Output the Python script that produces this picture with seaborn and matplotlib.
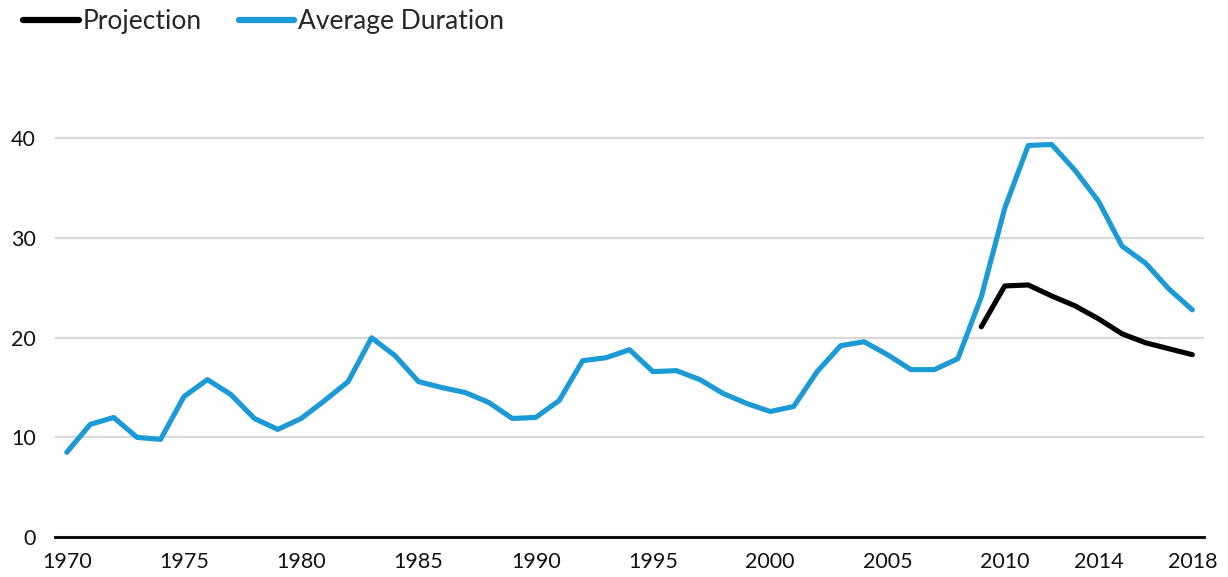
import numpy as np
import pandas as pd
import matplotlib
matplotlib.use("Agg")
import matplotlib.pyplot as plt
import seaborn as sns
from matplotlib.ticker import FixedLocator

years = list(range(1970, 2019))
average_duration = [8.5, 11.3, 12.0, 10.0, 9.8, 14.1, 15.8, 14.3, 11.9, 10.8,
                    11.9, 13.7, 15.6, 20.0, 18.2, 15.6, 15.0, 14.5, 13.5, 11.9,
                    12.0, 13.7, 17.7, 18.0, 18.8, 16.6, 16.7, 15.8, 14.4, 13.4,
                    12.6, 13.1, 16.6, 19.2, 19.6, 18.3, 16.8, 16.8, 17.9, 24.1,
                    33.0, 39.3, 39.4, 36.8, 33.7, 29.2, 27.5, 24.9, 22.8]
proj_years = list(range(2009, 2019))
projection = [21.1, 25.2, 25.3, 24.2, 23.2, 21.9, 20.4, 19.5, 18.9, 18.3]
tick_years = [1970, 1975, 1980, 1985, 1990, 1995, 2000, 2005, 2010, 2014, 2018]
y_ticks = [0, 10, 20, 30, 40]

df = pd.concat([
    pd.DataFrame({"Year": proj_years, "Value": projection, "Series": "Projection"}),
    pd.DataFrame({"Year": years, "Value": average_duration, "Series": "Average Duration"}),
])

sns.set_theme(style="white")
plt.rcParams['font.family'] = ['Lato', 'DejaVu Sans']

fig = plt.figure(figsize=(12.28, 5.77), dpi=100)
ax = fig.add_axes([0.0448, 0.0693, 0.9357, 0.777])

sns.lineplot(data=df, x="Year", y="Value", hue="Series",
             hue_order=["Projection", "Average Duration"],
             palette={"Projection": "#000000", "Average Duration": "#1C9AD6"},
             linewidth=3.7, ax=ax, legend=True)

ax.set_xlim(1969.5, 2018.5)
ax.set_ylim(0, 45)
ax.set_yticks(y_ticks)
ax.yaxis.grid(True, color="#D9D9D9", linewidth=1.6)
ax.set_axisbelow(True)
ax.set_xlabel("")
ax.set_ylabel("")
for s in ["top", "right", "left"]:
    ax.spines[s].set_visible(False)
ax.spines["bottom"].set_color("black")
ax.spines["bottom"].set_linewidth(2)

ax.xaxis.set_major_locator(FixedLocator(tick_years))
ax.set_xticklabels([str(y) for y in tick_years])
ax.xaxis.set_minor_locator(FixedLocator(np.arange(1969.5, 2019, 1)))
ax.tick_params(axis="x", which="major", length=0, labelsize=15.5, pad=11, colors="black")
ax.tick_params(axis="x", which="minor", length=7, width=1.6, color="black", direction="out")
ax.tick_params(axis="y", which="both", length=0, labelsize=15.5, pad=14, colors="black")
for lab in ax.get_xticklabels() + ax.get_yticklabels():
    lab.set_color("#111111")

leg = ax.legend(loc="center left", bbox_to_anchor=(0.019, 0.963), bbox_transform=fig.transFigure,
                ncol=2, frameon=False, fontsize=19, handlelength=2.1, handletextpad=0.15,
                columnspacing=1.4, borderaxespad=0, borderpad=0)
for line in leg.get_lines():
    line.set_linewidth(4.5)
    line.set_solid_capstyle("round")

fig.savefig("out.png", dpi=100)
